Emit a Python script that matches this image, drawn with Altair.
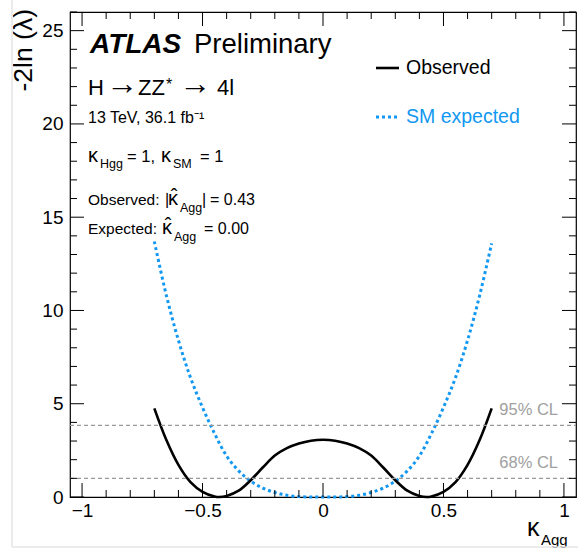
import altair as alt
import pandas as pd

# ---------------- data ----------------
kappa_obs = [-0.70, -0.65, -0.60, -0.55, -0.50, -0.45, -0.43, -0.40, -0.35, -0.30, -0.25, -0.20, -0.15, -0.10, -0.05, 0.00,
             0.05, 0.10, 0.15, 0.20, 0.25, 0.30, 0.35, 0.40, 0.43, 0.45, 0.50, 0.55, 0.60, 0.65, 0.70]
nll_obs = [4.75, 3.05, 1.72, 0.80, 0.28, 0.03, 0.00, 0.06, 0.34, 0.90, 1.58, 2.22, 2.62, 2.87, 3.02, 3.07,
           3.02, 2.87, 2.62, 2.22, 1.58, 0.90, 0.34, 0.06, 0.00, 0.03, 0.28, 0.80, 1.72, 3.05, 4.75]

kappa_exp = [-0.70, -0.65, -0.60, -0.55, -0.50, -0.45, -0.40, -0.35, -0.30, -0.25, -0.20, -0.15, -0.10, -0.05, 0.00,
             0.05, 0.10, 0.15, 0.20, 0.25, 0.30, 0.35, 0.40, 0.45, 0.50, 0.55, 0.60, 0.65, 0.70]
nll_exp = [13.7, 10.8, 8.4, 6.4, 4.8, 3.4, 2.2, 1.4, 0.85, 0.48, 0.24, 0.09, 0.02, 0.0, 0.0,
           0.0, 0.02, 0.09, 0.24, 0.48, 0.85, 1.4, 2.2, 3.4, 4.8, 6.4, 8.4, 10.8, 13.6]

cl_values = [1.0, 3.84]
cl_labels = ["68% CL", "95% CL"]

x_major = [-1.0, -0.5, 0.0, 0.5, 1.0]
x_minor = [-0.9, -0.8, -0.7, -0.6, -0.4, -0.3, -0.2, -0.1, 0.1, 0.2, 0.3, 0.4, 0.6, 0.7, 0.8, 0.9]
y_major = [0, 5, 10, 15, 20, 25]
y_minor = [1, 2, 3, 4, 6, 7, 8, 9, 11, 12, 13, 14, 16, 17, 18, 19, 21, 22, 23, 24, 26]

legend_labels = ["Observed", "SM expected"]
y_title = "-2ln (λ)"

FONT = "Liberation Sans"
BLUE = "#1298f2"
W, H = 506, 485

xs = alt.Scale(domain=[-1.05, 1.05], nice=False, zero=False)
ys = alt.Scale(domain=[0, 26], nice=False, zero=False)

obs_df = pd.DataFrame({"k": kappa_obs, "v": nll_obs})
exp_df = pd.DataFrame({"k": kappa_exp, "v": nll_exp})
cl_df = pd.DataFrame({"v": cl_values, "label": cl_labels})

x_axis = alt.Axis(values=x_major, format="~g", ticks=False, domain=False, grid=False,
                  labelFont=FONT, labelFontSize=19, labelColor="black", labelPadding=4,
                  title=None, labelFlush=False)
y_axis = alt.Axis(values=y_major, format="d", ticks=False, domain=False, grid=False,
                  labelFont=FONT, labelFontSize=19, labelColor="black", labelPadding=7,
                  title=None)


def X(field):
    return alt.X(field, scale=xs, axis=x_axis)


def Y(field):
    return alt.Y(field, scale=ys, axis=y_axis)


expected = alt.Chart(exp_df).mark_line(color=BLUE, strokeWidth=3, strokeDash=[3, 3],
                                       interpolate="catmull-rom").encode(x=X("k:Q"), y=Y("v:Q"))
observed = alt.Chart(obs_df).mark_line(color="black", strokeWidth=2.6,
                                       interpolate="catmull-rom").encode(x=X("k:Q"), y=Y("v:Q"))

cl_lines = alt.Chart(cl_df).mark_rule(color="#999999", strokeWidth=1.4, strokeDash=[4, 3]).encode(
    y=Y("v:Q"), x=alt.value(0), x2=alt.value(W))
cl_text = alt.Chart(cl_df).mark_text(align="right", baseline="middle", font=FONT, fontSize=16.5,
                                     color="#a0a0a0", dy=-15).encode(
    y=Y("v:Q"), x=alt.value(488), text="label:N")


def xticks(vals, length):
    df = pd.DataFrame({"t": vals})
    bottom = alt.Chart(df).mark_rule(color="black", strokeWidth=1).encode(
        x=X("t:Q"), y=alt.value(H), y2=alt.value(H - length))
    top = alt.Chart(df).mark_rule(color="black", strokeWidth=1).encode(
        x=X("t:Q"), y=alt.value(0), y2=alt.value(length))
    return [bottom, top]


def yticks(vals, length):
    df = pd.DataFrame({"t": vals})
    left = alt.Chart(df).mark_rule(color="black", strokeWidth=1).encode(
        y=Y("t:Q"), x=alt.value(0), x2=alt.value(length))
    right = alt.Chart(df).mark_rule(color="black", strokeWidth=1).encode(
        y=Y("t:Q"), x=alt.value(W), x2=alt.value(W - length))
    return [left, right]


def txt(s, x, y, size, color="black", weight="normal", style="normal", align="left",
        baseline="alphabetic", angle=0):
    return alt.Chart(pd.DataFrame({"s": [s]})).mark_text(
        align=align, baseline=baseline, font=FONT, fontSize=size, color=color,
        fontWeight=weight, fontStyle=style, angle=angle).encode(
        x=alt.value(x), y=alt.value(y), text="s:N")


def hline(x1, x2, y, color, width, dash=None):
    kw = dict(color=color, strokeWidth=width)
    if dash:
        kw["strokeDash"] = dash
    return alt.Chart(pd.DataFrame({"a": [0]})).mark_rule(**kw).encode(
        x=alt.value(x1), x2=alt.value(x2), y=alt.value(y))


texts = [
    txt("ATLAS", 20, 41, 28, weight="bold", style="italic"),
    txt("Preliminary", 124, 41, 27.5),
    txt("H", 18, 83, 22),
    txt("→", 52, 72, 32, align="center", baseline="middle"),
    txt("ZZ", 68, 83, 22),
    txt("*", 96, 78, 16),
    txt("→", 125, 72, 32, align="center", baseline="middle"),
    txt("4l", 147, 83, 22),
    txt("13 TeV, 36.1 fb⁻¹", 18, 111, 16),
    txt("κ", 18, 150, 20),
    txt("Hgg", 30, 156, 12.5),
    txt("= 1,", 57, 150, 16.5),
    txt("κ", 91, 150, 20),
    txt("SM", 103, 156, 12.5),
    txt("= 1", 130, 150, 16.5),
    txt("Observed:", 18, 193, 15.5),
    txt("|", 95, 193, 16),
    txt("κ", 98, 193, 20),
    txt("ˆ", 104, 191, 20, align="center"),
    txt("Agg", 110, 200, 12.5),
    txt("|", 132, 193, 16),
    txt("= 0.43", 140, 193, 16),
    txt("Expected:", 18, 222, 15.5),
    txt("κ", 92, 222, 20),
    txt("ˆ", 98, 220, 20, align="center"),
    txt("Agg", 104, 229, 12.5),
    txt("= 0.00", 134, 222, 16),
    # legend
    txt(legend_labels[0], 336, 56, 19.5, baseline="middle"),
    txt(legend_labels[1], 336, 105, 19.5, color=BLUE, baseline="middle"),
    # axis titles
    txt(y_title, -38, -3, 26.5, align="right", angle=270),
    txt("κ", 457, 524, 25),
    txt("Agg", 471, 533, 15),
]

legend_lines = [
    hline(306, 329, 56, "black", 2.6),
    hline(306, 329, 105, BLUE, 3, [3, 3]),
]

border = [
    alt.Chart(pd.DataFrame({"a": [0]})).mark_rule(color="#e4e4e4", strokeWidth=1.5).encode(
        x=alt.value(-58), y=alt.value(-12), y2=alt.value(535)),
    hline(-58, 508, 535, "#e4e4e4", 1.5),
]

layers = ([expected, observed, cl_lines, cl_text]
          + xticks(x_major, 14) + xticks(x_minor, 7)
          + yticks(y_major, 14) + yticks(y_minor, 7)
          + legend_lines + texts + border)

chart = alt.layer(*layers).properties(
    width=W, height=H,
    padding={"left": 70, "top": 12, "right": 2, "bottom": 57},
    autosize=alt.AutoSizeParams(type="none"),
    background="white",
).configure_view(stroke="black", strokeWidth=1.2)

chart.save("out.html", embed_options={"renderer": "svg", "actions": False})
